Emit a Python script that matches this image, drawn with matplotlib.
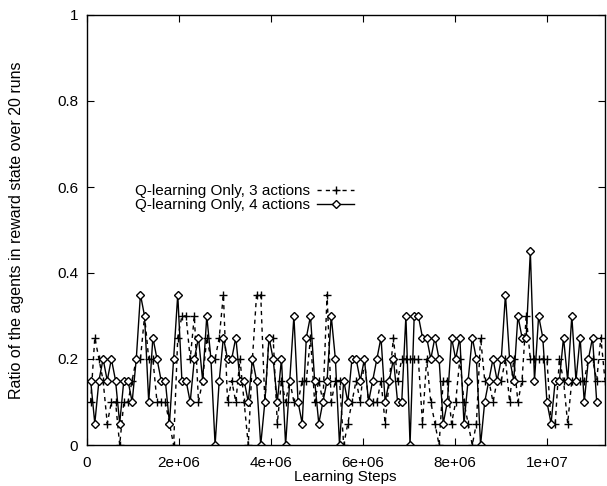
import numpy as np
import matplotlib
matplotlib.use("Agg")
import matplotlib.pyplot as plt

step = 90000
vals_4 = [0.15, 0.05, 0.15, 0.2, 0.15, 0.2, 0.15, 0.05, 0.15, 0.15,
          0.1, 0.2, 0.35, 0.3, 0.1, 0.25, 0.2, 0.15, 0.15, 0.05,
          0.2, 0.35, 0.15, 0.15, 0.1, 0.2, 0.25, 0.15, 0.3, 0.2,
          0.0, 0.15, 0.25, 0.2, 0.2, 0.25, 0.15, 0.15, 0.1, 0.2,
          0.15, 0.0, 0.1, 0.25, 0.2, 0.1, 0.2, 0.0, 0.15, 0.3,
          0.1, 0.05, 0.25, 0.3, 0.15, 0.05, 0.1, 0.15, 0.3, 0.2,
          0.0, 0.15, 0.1, 0.2, 0.2, 0.15, 0.2, 0.1, 0.15, 0.2,
          0.25, 0.1, 0.15, 0.2, 0.1, 0.1, 0.3, 0.0, 0.3, 0.3,
          0.25, 0.25, 0.2, 0.25, 0.2, 0.05, 0.1, 0.25, 0.2, 0.25,
          0.05, 0.15, 0.25, 0.2, 0.0, 0.1, 0.15, 0.2, 0.15, 0.2,
          0.35, 0.2, 0.15, 0.3, 0.25, 0.25, 0.45, 0.15, 0.3, 0.25,
          0.1, 0.05, 0.15, 0.15, 0.25, 0.15, 0.3, 0.15, 0.25, 0.1,
          0.2, 0.25, 0.1]
vals_3 = [0.1, 0.25, 0.2, 0.15, 0.05, 0.1, 0.1, 0.0, 0.1, 0.1,
          0.15, 0.2, 0.2, 0.3, 0.2, 0.2, 0.1, 0.1, 0.1, 0.05,
          0.0, 0.25, 0.3, 0.3, 0.2, 0.3, 0.1, 0.15, 0.25, 0.2,
          0.2, 0.25, 0.35, 0.1, 0.15, 0.1, 0.2, 0.1, 0.0, 0.2,
          0.35, 0.35, 0.1, 0.25, 0.25, 0.05, 0.15, 0.1, 0.15, 0.1,
          0.1, 0.15, 0.15, 0.25, 0.1, 0.15, 0.1, 0.35, 0.1, 0.15,
          0.15, 0.0, 0.05, 0.1, 0.15, 0.1, 0.2, 0.1, 0.1, 0.1,
          0.15, 0.05, 0.15, 0.25, 0.15, 0.2, 0.2, 0.2, 0.2, 0.2,
          0.05, 0.2, 0.1, 0.05, 0.0, 0.15, 0.15, 0.05, 0.1, 0.2,
          0.1, 0.05, 0.0, 0.05, 0.25, 0.15, 0.15, 0.1, 0.15, 0.15,
          0.2, 0.1, 0.2, 0.1, 0.15, 0.3, 0.2, 0.2, 0.2, 0.2,
          0.2, 0.05, 0.05, 0.2, 0.15, 0.05, 0.15, 0.15, 0.15, 0.15,
          0.2, 0.2, 0.15, 0.25, 0.15]
x3 = step * np.arange(1, len(vals_3) + 1)
x4 = step * np.arange(1, len(vals_4) + 1)

xticks = [0, 2e6, 4e6, 6e6, 8e6, 1e7]
xticklabels = ["0", "2e+06", "4e+06", "6e+06", "8e+06", "1e+07"]
yticks = [0, 0.2, 0.4, 0.6, 0.8, 1.0]
yticklabels = ["0", "0.2", "0.4", "0.6", "0.8", "1"]

plt.rcParams['font.family'] = ['Liberation Sans', 'DejaVu Sans']
fig = plt.figure(figsize=(6.07, 4.86), dpi=100)
ax = fig.add_axes([86.5/607, 1-445/486, (605-86.5)/607, (445-15)/486])

ax.plot(x3, vals_3, color='black', lw=1.0, dashes=(3, 3), marker='+',
        markersize=6, markeredgewidth=1.0, label='Q-learning Only, 3 actions')
ax.plot(x4, vals_4, color='black', lw=1.0, marker='D', markersize=4,
        markerfacecolor='white', markeredgecolor='black', markeredgewidth=1.0,
        label='Q-learning Only, 4 actions')

ax.set_xlim(0, 1.125e7)
ax.set_ylim(0, 1)
ax.set_xticks(xticks)
ax.set_xticklabels(xticklabels)
ax.set_yticks(yticks)
ax.set_yticklabels(yticklabels)
ax.tick_params(direction='in', top=True, right=True, length=5, width=0.8,
               labelsize=11, pad=8)
ax.tick_params(axis='y', pad=6)
for s in ax.spines.values():
    s.set_linewidth(1.0)

ax.set_xlabel("Learning Steps", fontsize=11, labelpad=0)
ax.set_ylabel("Ratio of the agents in reward state over 20 runs", fontsize=11.5, labelpad=24)

leg = ax.legend(loc='upper left', bbox_to_anchor=(0.078, 0.624), frameon=False,
                markerfirst=False, fontsize=11, handlelength=2.4,
                handletextpad=0.5, labelspacing=0.0, borderpad=0)

fig.savefig("out.png", dpi=100)
